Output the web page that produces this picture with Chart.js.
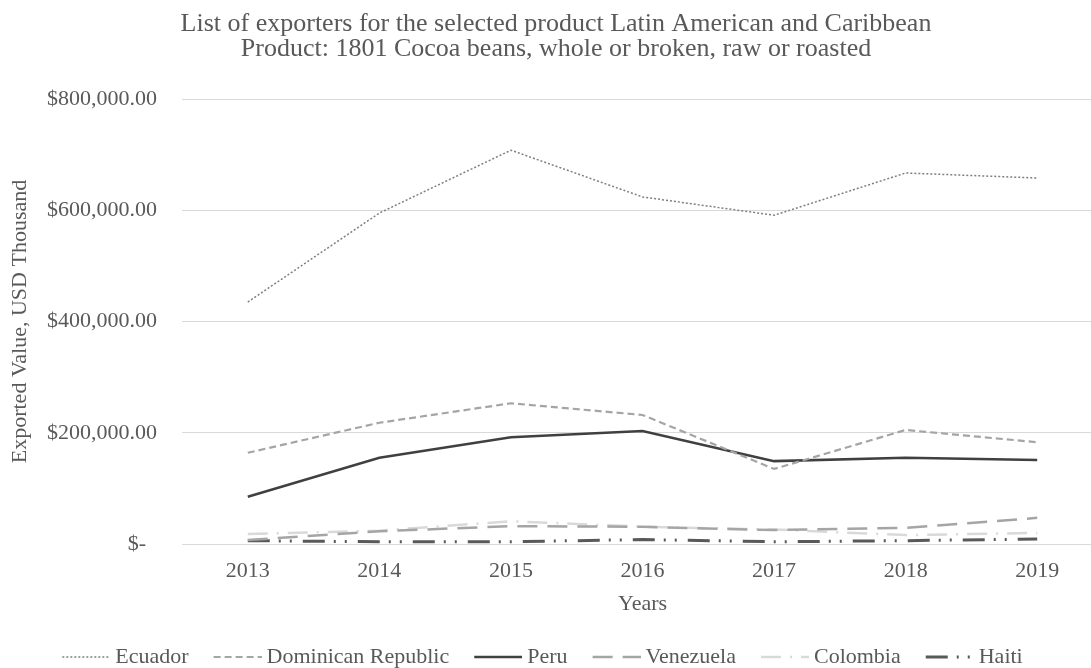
<!DOCTYPE html>
<html>
<head>
<meta charset="utf-8">
<script src="https://cdn.jsdelivr.net/npm/chart.js@4/dist/chart.umd.min.js"></script>
<style>
  html, body { margin: 0; padding: 0; background: #ffffff; overflow: hidden; width: 1091px; height: 668px; }
  canvas { display: block; }
</style>
</head>
<body>
<canvas id="chart" width="1103" height="668"></canvas>
<script>
// Cocoa bean exports (HS 1801), USD thousand
const years = ['2013', '2014', '2015', '2016', '2017', '2018', '2019'];
const ecuador    = [435000, 595000, 708000, 624000, 591000, 667000, 658000];
const dominican  = [164000, 218000, 253000, 232000, 135000, 205000, 183000];
const peru       = [85000, 155000, 192000, 203000, 149000, 155000, 151000];
const venezuela  = [7000, 23000, 32000, 31000, 25000, 29000, 47000];
const colombia   = [18000, 24000, 41000, 31000, 26000, 16000, 20000];
const haiti      = [6000, 4000, 4000, 8000, 4000, 6000, 9000];
const yTicks = [0, 200000, 400000, 600000, 800000];

const serif = '"Liberation Serif", "Times New Roman", serif';
const textColor = '#595959';

// Bottom legend kept in a fixed-height band so the item spacing
// (labels.padding) does not also push the plot area upwards.
const LEGEND_BAND = 49;
const LegendBox = Chart.registry.getPlugin('legend')._element;
const baseFit = LegendBox.prototype.fit;
LegendBox.prototype.fit = function () {
  baseFit.call(this);
  if (this.isHorizontal()) this.height = LEGEND_BAND;
};

// Small horizontal nudges for the title and legend blocks.
const blockNudge = {
  id: 'blockNudge',
  afterLayout(chart) {
    if (chart.titleBlock) { chart.titleBlock.left += 4.5; chart.titleBlock.right += 4.5; }
    if (chart.legend) { chart.legend.left -= 8; chart.legend.right -= 8; }
  }
};

// Legend swatch: a short stroke using the series' own line style.
function swatch(color, width, dash) {
  const c = document.createElement('canvas');
  c.width = 52; c.height = 8;
  const g = c.getContext('2d');
  g.strokeStyle = color;
  g.lineWidth = width;
  g.setLineDash(dash);
  g.beginPath();
  g.moveTo(4, 4);
  g.lineTo(52, 4);
  g.stroke();
  return c;
}

function series(label, data, color, width, dash) {
  return {
    label, data,
    borderColor: color,
    backgroundColor: color,
    borderWidth: width,
    borderDash: dash,
    pointRadius: 0,
    pointHoverRadius: 0,
    pointStyle: swatch(color, width, dash),
    tension: 0,
    fill: false
  };
}

new Chart(document.getElementById('chart'), {
  type: 'line',
  data: {
    labels: years,
    datasets: [
      series('Ecuador', ecuador, '#7f7f7f', 1.5, [2, 2]),
      series('Dominican Republic', dominican, '#a5a5a5', 2.2, [7, 4]),
      series('Peru', peru, '#404040', 2.5, []),
      series('Venezuela', venezuela, '#a5a5a5', 2.5, [20, 10]),
      series('Colombia', colombia, '#d9d9d9', 2.5, [20, 9, 2, 9]),
      series('Haiti', haiti, '#595959', 3, [22, 9, 2, 9, 2, 11])
    ]
  },
  plugins: [blockNudge],
  options: {
    responsive: false,
    maintainAspectRatio: false,
    animation: false,
    events: [],
    layout: { padding: 0 },
    plugins: {
      title: {
        display: true,
        text: ['List of exporters for the selected product Latin American and Caribbean',
               'Product: 1801 Cocoa beans, whole or broken, raw or roasted'],
        color: textColor,
        font: { family: serif, size: 26, weight: 'normal', lineHeight: 0.962 },
        padding: { top: 11.5, bottom: 37.5 }
      },
      legend: {
        position: 'bottom',
        labels: {
          usePointStyle: true,
          pointStyleWidth: 40,
          color: textColor,
          font: { family: serif, size: 22 },
          padding: 27
        }
      },
      tooltip: { enabled: false }
    },
    scales: {
      x: {
        offset: true,
        grid: { display: false, drawTicks: false },
        border: { display: false },
        ticks: {
          color: textColor,
          font: { family: serif, size: 22 },
          padding: 13.8,
          maxRotation: 0
        },
        title: {
          display: true,
          text: 'Years',
          color: textColor,
          font: { family: serif, size: 22 },
          padding: { top: 0, bottom: 1.8 }
        },
        afterFit(scale) { scale.height = 75; }
      },
      y: {
        min: 0,
        max: 800000,
        afterBuildTicks(scale) { scale.ticks = yTicks.map(v => ({ value: v })); },
        grid: { color: '#d9d9d9', lineWidth: 1, drawTicks: false },
        border: { display: false },
        ticks: {
          color: textColor,
          font: { family: serif, size: 22 },
          padding: 25,
          callback(value) {
            if (value === 0) return '$-  ';
            return '$' + value.toLocaleString('en-US', { minimumFractionDigits: 2, maximumFractionDigits: 2 });
          }
        },
        title: {
          display: true,
          text: 'Exported Value, USD Thousand',
          color: textColor,
          font: { family: serif, size: 22 },
          padding: { top: 6.8, bottom: 0 }
        },
        afterFit(scale) { scale.width = 182; }
      }
    }
  }
});
</script>
</body>
</html>
